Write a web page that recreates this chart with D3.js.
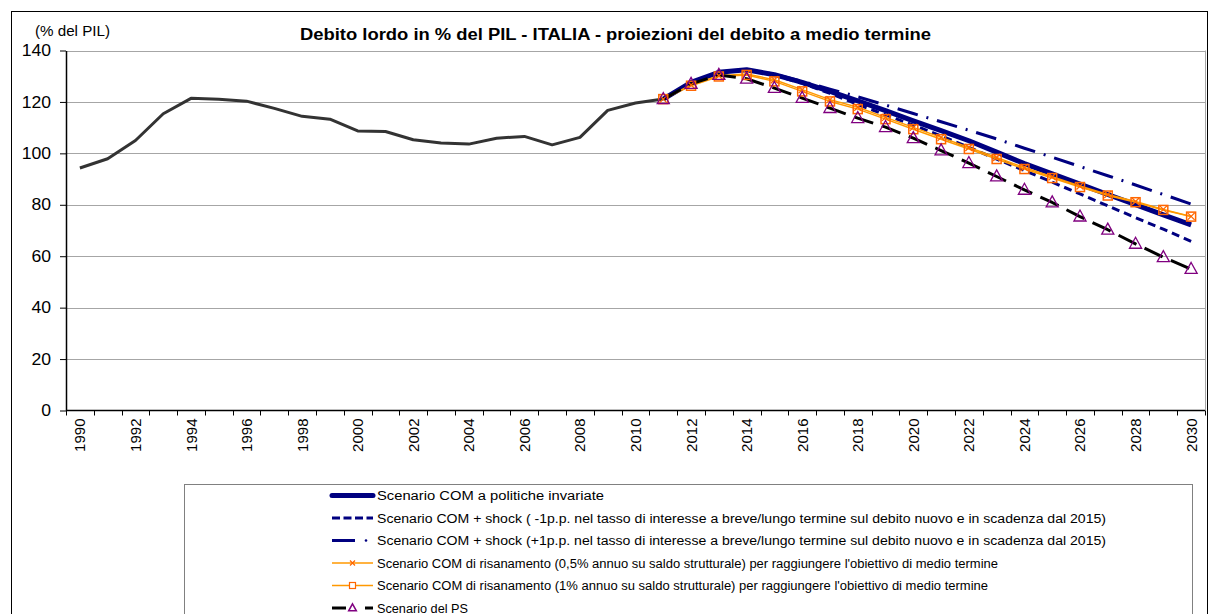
<!DOCTYPE html>
<html><head><meta charset="utf-8">
<script src="https://cdn.jsdelivr.net/npm/d3@7"></script>
<style>body{margin:0;background:#fff}svg{display:block}text{font-family:Arial,"Liberation Sans",sans-serif}</style>
</head><body><svg id="c" width="1209" height="614"></svg>
<script>
const years = [1990,1991,1992,1993,1994,1995,1996,1997,1998,1999,2000,2001,2002,2003,2004,2005,2006,2007,2008,2009,2010,2011,2012,2013,2014,2015,2016,2017,2018,2019,2020,2021,2022,2023,2024,2025,2026,2027,2028,2029,2030];
const histYears = [1990,1991,1992,1993,1994,1995,1996,1997,1998,1999,2000,2001,2002,2003,2004,2005,2006,2007,2008,2009,2010,2011];
const histValues = [94.3,97.9,105.0,115.4,121.4,121.0,120.3,117.5,114.4,113.3,108.7,108.5,105.3,104.0,103.6,105.9,106.6,103.3,106.2,116.7,119.6,121.1];
const projYears = [2011,2012,2013,2014,2015,2016,2017,2018,2019,2020,2021,2022,2023,2024,2025,2026,2027,2028,2029,2030];
const comInvariate = [121.1,127.6,131.5,132.5,130.6,127.6,124.1,120.4,116.6,112.6,108.8,104.9,100.5,96.0,92.0,88.0,84.0,80.1,76.1,72.2];
const shockMinus   = [121.1,127.6,131.5,132.5,130.4,127.2,123.3,119.0,115.0,111.0,106.8,102.3,97.8,93.3,88.8,84.2,79.6,75.0,70.5,65.8];
const shockPlus    = [121.1,127.6,131.5,132.5,130.8,128.0,125.0,122.0,118.8,115.5,112.3,109.0,105.6,102.0,98.5,94.9,91.3,87.7,84.0,80.3];
const risan05      = [121.1,126.6,130.2,130.9,128.6,124.8,120.9,117.9,114.0,110.1,106.2,102.3,98.4,94.5,90.9,87.3,84.0,81.3,78.2,75.5];
const risan1       = [121.1,126.3,129.9,130.5,128.0,124.1,120.2,117.2,113.3,109.4,105.5,101.7,97.8,93.9,90.4,86.9,83.6,81.0,78.0,75.4];
const scenarioPS   = [121.1,127.0,130.5,129.0,125.4,121.5,117.6,113.7,110.2,105.9,101.1,96.2,91.0,85.8,80.9,75.4,70.3,64.8,59.6,55.0];
const yTicks = [0,20,40,60,80,100,120,140];
const xLabelYears = [1990,1992,1994,1996,1998,2000,2002,2004,2006,2008,2010,2012,2014,2016,2018,2020,2022,2024,2026,2028,2030];
const title = "Debito lordo in % del PIL - ITALIA - proiezioni del debito a medio termine";
const unitLabel = "(% del PIL)";
const legendLabels = [
 "Scenario COM a politiche invariate",
 "Scenario COM + shock ( -1p.p. nel tasso di interesse a breve/lungo termine sul debito nuovo e in scadenza dal 2015)",
 "Scenario COM + shock (+1p.p. nel tasso di interesse a breve/lungo termine sul debito nuovo e in scadenza dal 2015)",
 "Scenario COM di risanamento (0,5% annuo su saldo strutturale) per raggiungere l'obiettivo di medio termine",
 "Scenario COM di risanamento (1% annuo su saldo strutturale) per raggiungere l'obiettivo di medio termine",
 "Scenario del PS"
];

const svg = d3.select("#c");
const L = 66, R = 1205, T = 50.5, B = 410.5;
const x = d3.scaleBand().domain(years).range([L, R]);
const cx = yr => x(yr) + x.bandwidth()/2;
const y = d3.scaleLinear().domain([0,140]).range([B, T]);

function stretch(sel, k){
  sel.each(function(){
    const w = this.getComputedTextLength();
    d3.select(this).attr("textLength", w*k).attr("lengthAdjust","spacingAndGlyphs");
  });
}

svg.append("rect").attr("x",11.5).attr("y",11.5).attr("width",1196).attr("height",640)
  .attr("fill","none").attr("stroke","#000").attr("stroke-width",1);

svg.append("g").selectAll("line").data(yTicks.filter(d=>d>0)).join("line")
  .attr("x1",L).attr("x2",R).attr("y1",d=>Math.round(y(d))+0.5).attr("y2",d=>Math.round(y(d))+0.5)
  .attr("stroke","#a6a6a6").attr("stroke-width",1);
svg.append("line").attr("x1",R+0.5).attr("x2",R+0.5).attr("y1",T).attr("y2",B).attr("stroke","#a6a6a6");

const ya = svg.append("g").attr("transform",`translate(${L},0)`)
  .call(d3.axisLeft(y).tickValues(yTicks).tickSize(6).tickSizeOuter(0).tickPadding(9));
ya.select(".domain").attr("stroke","#000").attr("stroke-width",1.5);
ya.selectAll("text").attr("font-size",16).attr("fill","#000").style("font-family","Arial,'Liberation Sans',sans-serif");
ya.selectAll(".tick line").attr("stroke","#000");
stretch(ya.selectAll("text"), 1.1);

const bounds = years.map(d=>x(d)).concat([R]);
svg.append("g").selectAll("line").data(bounds).join("line")
  .attr("x1",d=>Math.round(d)+0.5).attr("x2",d=>Math.round(d)+0.5).attr("y1",B).attr("y2",B+5)
  .attr("stroke","#000");
svg.append("line").attr("x1",L).attr("x2",R).attr("y1",B).attr("y2",B).attr("stroke","#000").attr("stroke-width",1.5);
svg.append("g").selectAll("text").data(xLabelYears).join("text")
  .attr("transform",d=>`translate(${cx(d)+5.5},${B+8}) rotate(-90)`)
  .attr("text-anchor","end").attr("font-size",15).attr("fill","#000").text(d=>d);

svg.append("text").attr("x",615.5).attr("y",39.5).attr("text-anchor","middle")
  .attr("font-size",16).attr("font-weight","bold").text(title)
  .attr("textLength",631).attr("lengthAdjust","spacingAndGlyphs");
svg.append("text").attr("x",35).attr("y",36).attr("font-size",14).text(unitLabel)
  .attr("textLength",75).attr("lengthAdjust","spacingAndGlyphs");

const line = d3.line().x(d=>cx(d[0])).y(d=>y(d[1]));
const zip = (ys, vs) => ys.map((yr,i)=>[yr, vs[i]]);

svg.append("path").datum(zip(histYears,histValues)).attr("d",line)
  .attr("fill","none").attr("stroke","#333333").attr("stroke-width",3).attr("stroke-linejoin","round");

const series = [
 {v:comInvariate, stroke:"#000080", w:5, dash:null},
 {v:shockMinus, stroke:"#000080", w:3, dash:"8,5"},
 {v:shockPlus, stroke:"#000080", w:3, dash:"21,9,2,9"},
 {v:risan05, stroke:"#FF9900", w:1.5, dash:null, marker:"x"},
 {v:risan1, stroke:"#FF9900", w:1.5, dash:null, marker:"sq"},
 {v:scenarioPS, stroke:"#000000", w:3, dash:"20,9", marker:"tri"}
];
const triPath = s => `M0,${-s*0.6}L${s*0.55},${s*0.4}L${-s*0.55},${s*0.4}Z`;
function drawMarker(g, type){
  if(type==="x"){
    g.append("path").attr("d","M-3.5,-3.5L3.5,3.5M-3.5,3.5L3.5,-3.5").attr("stroke","#FF6600").attr("stroke-width",1.3).attr("fill","none");
  } else if(type==="sq"){
    g.append("rect").attr("x",-4.5).attr("y",-4.5).attr("width",9).attr("height",9).attr("fill","none").attr("stroke","#FF6600").attr("stroke-width",1.5);
  } else if(type==="tri"){
    g.append("path").attr("d",triPath(11)).attr("fill","none").attr("stroke","#800080").attr("stroke-width",1.3);
  }
}
series.forEach(s=>{
  svg.append("path").datum(zip(projYears,s.v)).attr("d",line)
    .attr("fill","none").attr("stroke",s.stroke).attr("stroke-width",s.w)
    .attr("stroke-dasharray",s.dash).attr("stroke-linejoin","round");
});
series.forEach(s=>{
  if(!s.marker) return;
  zip(projYears,s.v).forEach(p=>{
    const g = svg.append("g").attr("transform",`translate(${cx(p[0])},${y(p[1])})`);
    drawMarker(g, s.marker);
  });
});

svg.append("rect").attr("x",184.5).attr("y",484.5).attr("width",1008).attr("height",160)
  .attr("fill","#fff").attr("stroke","#808080").attr("stroke-width",1);
const lx1 = 332, lx2 = 373, ly0 = 495.5, ldy = 22.5;
const legendWidths = [227, 729, 729, 621, 611, 91];
series.forEach((s,i)=>{
  const yy = ly0 + i*ldy;
  const g = svg.append("g");
  if(s.marker==="tri"){
    g.append("line").attr("x1",lx1).attr("x2",lx1+14).attr("y1",yy).attr("y2",yy).attr("stroke","#000").attr("stroke-width",3);
    g.append("line").attr("x1",lx2-8).attr("x2",lx2).attr("y1",yy).attr("y2",yy).attr("stroke","#000").attr("stroke-width",3);
  } else if(s.dash && s.dash.split(",").length===4){
    g.append("line").attr("x1",lx1).attr("x2",lx1+23).attr("y1",yy).attr("y2",yy).attr("stroke",s.stroke).attr("stroke-width",s.w);
    g.append("circle").attr("cx",lx1+34).attr("cy",yy).attr("r",1.3).attr("fill",s.stroke);
  } else {
    g.append("line").attr("x1",lx1).attr("x2",lx2).attr("y1",yy).attr("y2",yy)
      .attr("stroke",s.stroke).attr("stroke-width",s.w).attr("stroke-dasharray",s.dash? "8,3.5":null)
      .attr("stroke-linecap",s.w>=5?"round":null);
  }
  if(s.marker){
    const mg = g.append("g").attr("transform",`translate(${(lx1+lx2)/2},${yy})`);
    if(s.marker==="tri"){
      mg.append("path").attr("d",triPath(7)).attr("fill","none").attr("stroke","#800080").attr("stroke-width",1.5);
    } else if(s.marker==="x"){
      mg.append("path").attr("d","M-2.5,-2.5L2.5,2.5M-2.5,2.5L2.5,-2.5").attr("stroke","#FF6600").attr("stroke-width",1.2);
    } else {
      mg.append("rect").attr("x",-3).attr("y",-3).attr("width",6).attr("height",6).attr("fill","#fff").attr("stroke","#FF6600").attr("stroke-width",1.2);
    }
  }
  g.append("text").attr("x",377).attr("y",yy+4.5).attr("font-size",12.5).attr("fill","#000").text(legendLabels[i])
    .attr("textLength",legendWidths[i]).attr("lengthAdjust","spacingAndGlyphs");
});
</script></body></html>
